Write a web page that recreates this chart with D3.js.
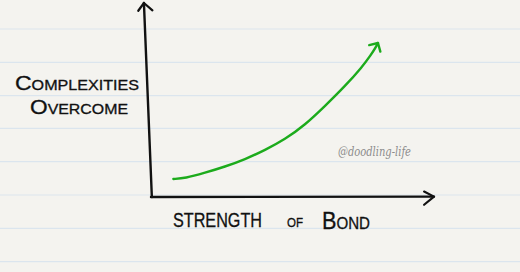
<!DOCTYPE html>
<html>
<head>
<meta charset="utf-8">
<script src="https://cdn.jsdelivr.net/npm/d3@7"></script>
<style>
  body { margin: 0; background: #f4f3ef; }
  svg { display: block; }
  .lbl { font-family: "Liberation Sans", sans-serif; font-variant: small-caps; fill: #111; stroke: #111; stroke-width: 0.3; }
</style>
</head>
<body>
<svg id="chart"></svg>
<script>
const width = 520, height = 272;

// curve values (x = strength of bond, y = complexities overcome)
const bondStrength = [0.79, 1.2, 1.91, 2.61, 3.32, 4.03, 4.73, 5.44, 6.15, 6.86, 7.46, 7.77, 7.95, 8.02];
const complexities = [0.93, 0.96, 1.25, 1.56, 1.94, 2.42, 2.97, 3.71, 4.69, 5.72, 6.7, 7.32, 7.73, 7.94];

const yLabelLines = ["Complexities", "Overcome"];
const xLabelWords = ["Strength", "of", "Bond"];
const watermark = "@doodling-life";

// ruled paper lines
const ruleRows = [29, 62.3, 95.7, 128.3, 161.7, 195, 228.3, 261.7];

const svg = d3.select("#chart").attr("width", width).attr("height", height);

svg.append("rect").attr("width", width).attr("height", height).attr("fill", "#f4f3ef");

svg.selectAll(".rule")
  .data(ruleRows)
  .enter()
  .append("line")
  .attr("class", "rule")
  .attr("x1", 0).attr("x2", width)
  .attr("y1", d => d).attr("y2", d => d)
  .style("stroke", "#dbe5ee")
  .style("stroke-width", 1.2);

// scales
const x = d3.scaleLinear().domain([0, 10]).range([151, 434]);
const y = d3.scaleLinear().domain([0, 10]).range([197, 3]);

const ink = "#111";

// y axis (slightly slanted like the sketch)
svg.append("line")
  .attr("x1", x(0.03)).attr("y1", y(0))
  .attr("x2", x(-0.25)).attr("y2", y(10))
  .style("stroke", ink).style("stroke-width", 2.4).style("stroke-linecap", "round");
svg.append("path")
  .attr("d", `M${x(-0.45)},${y(9.6)} L${x(-0.25)},${y(10)} L${x(0.05)},${y(9.62)}`)
  .style("fill", "none").style("stroke", ink).style("stroke-width", 2.2)
  .style("stroke-linecap", "round").style("stroke-linejoin", "round");

// x axis
svg.append("line")
  .attr("x1", x(0)).attr("y1", y(0))
  .attr("x2", x(10)).attr("y2", y(0.02))
  .style("stroke", ink).style("stroke-width", 2.4).style("stroke-linecap", "round");
svg.append("path")
  .attr("d", `M${x(9.65)},${y(0.28)} L${x(10)},${y(0.02)} L${x(9.65)},${y(-0.4)}`)
  .style("fill", "none").style("stroke", ink).style("stroke-width", 2.2)
  .style("stroke-linecap", "round").style("stroke-linejoin", "round");

// green curve
const pts = bondStrength.map((v, i) => [x(v), y(complexities[i])]);
const green = "#1cab1c";
svg.append("path")
  .attr("d", d3.line().curve(d3.curveBasis)(pts))
  .style("fill", "none").style("stroke", green).style("stroke-width", 2.4)
  .style("stroke-linecap", "round");

// arrowhead on the curve end
const [tx, ty] = pts[pts.length - 1];
const [px, py] = pts[pts.length - 3];
const ang = Math.atan2(ty - py, tx - px);
const headLen = 9, spread = 0.8;
const arm = a => [tx - headLen * Math.cos(ang + a), ty - headLen * Math.sin(ang + a)];
const a1 = arm(spread), a2 = arm(-spread);
svg.append("path")
  .attr("d", `M${a1[0]},${a1[1]} L${tx},${ty} L${a2[0]},${a2[1]}`)
  .style("fill", "none").style("stroke", green).style("stroke-width", 2.4)
  .style("stroke-linecap", "round").style("stroke-linejoin", "round");

// y label
const yLab = [
  { x: 15, y: 90, len: 124, size: 20 },
  { x: 30, y: 114, len: 98, size: 20 }
];
svg.selectAll(".ylab")
  .data(yLabelLines)
  .enter()
  .append("text")
  .attr("class", "lbl ylab")
  .attr("x", (d, i) => yLab[i].x)
  .attr("y", (d, i) => yLab[i].y)
  .attr("textLength", (d, i) => yLab[i].len)
  .attr("lengthAdjust", "spacingAndGlyphs")
  .style("font-size", (d, i) => yLab[i].size + "px")
  .text(d => d);

// x label
const xLab = [
  { x: 173, y: 227, len: 89, size: 20, caps: true },
  { x: 287, y: 227, len: 16, size: 13, caps: true },
  { x: 322, y: 229, len: 48, size: 23, caps: false }
];
svg.selectAll(".xlab")
  .data(xLabelWords)
  .enter()
  .append("text")
  .attr("class", "lbl xlab")
  .attr("x", (d, i) => xLab[i].x)
  .attr("y", (d, i) => xLab[i].y)
  .attr("textLength", (d, i) => xLab[i].len)
  .attr("lengthAdjust", "spacingAndGlyphs")
  .style("font-size", (d, i) => xLab[i].size + "px")
  .text((d, i) => xLab[i].caps ? d.toUpperCase() : d);

// watermark
svg.append("text")
  .attr("x", 338).attr("y", 156)
  .attr("textLength", 73)
  .attr("lengthAdjust", "spacingAndGlyphs")
  .style("font-family", "DejaVu Serif, serif")
  .style("font-style", "italic")
  .style("font-size", "12px")
  .style("fill", "#8c8c8c")
  .text(watermark);
</script>
</body>
</html>
